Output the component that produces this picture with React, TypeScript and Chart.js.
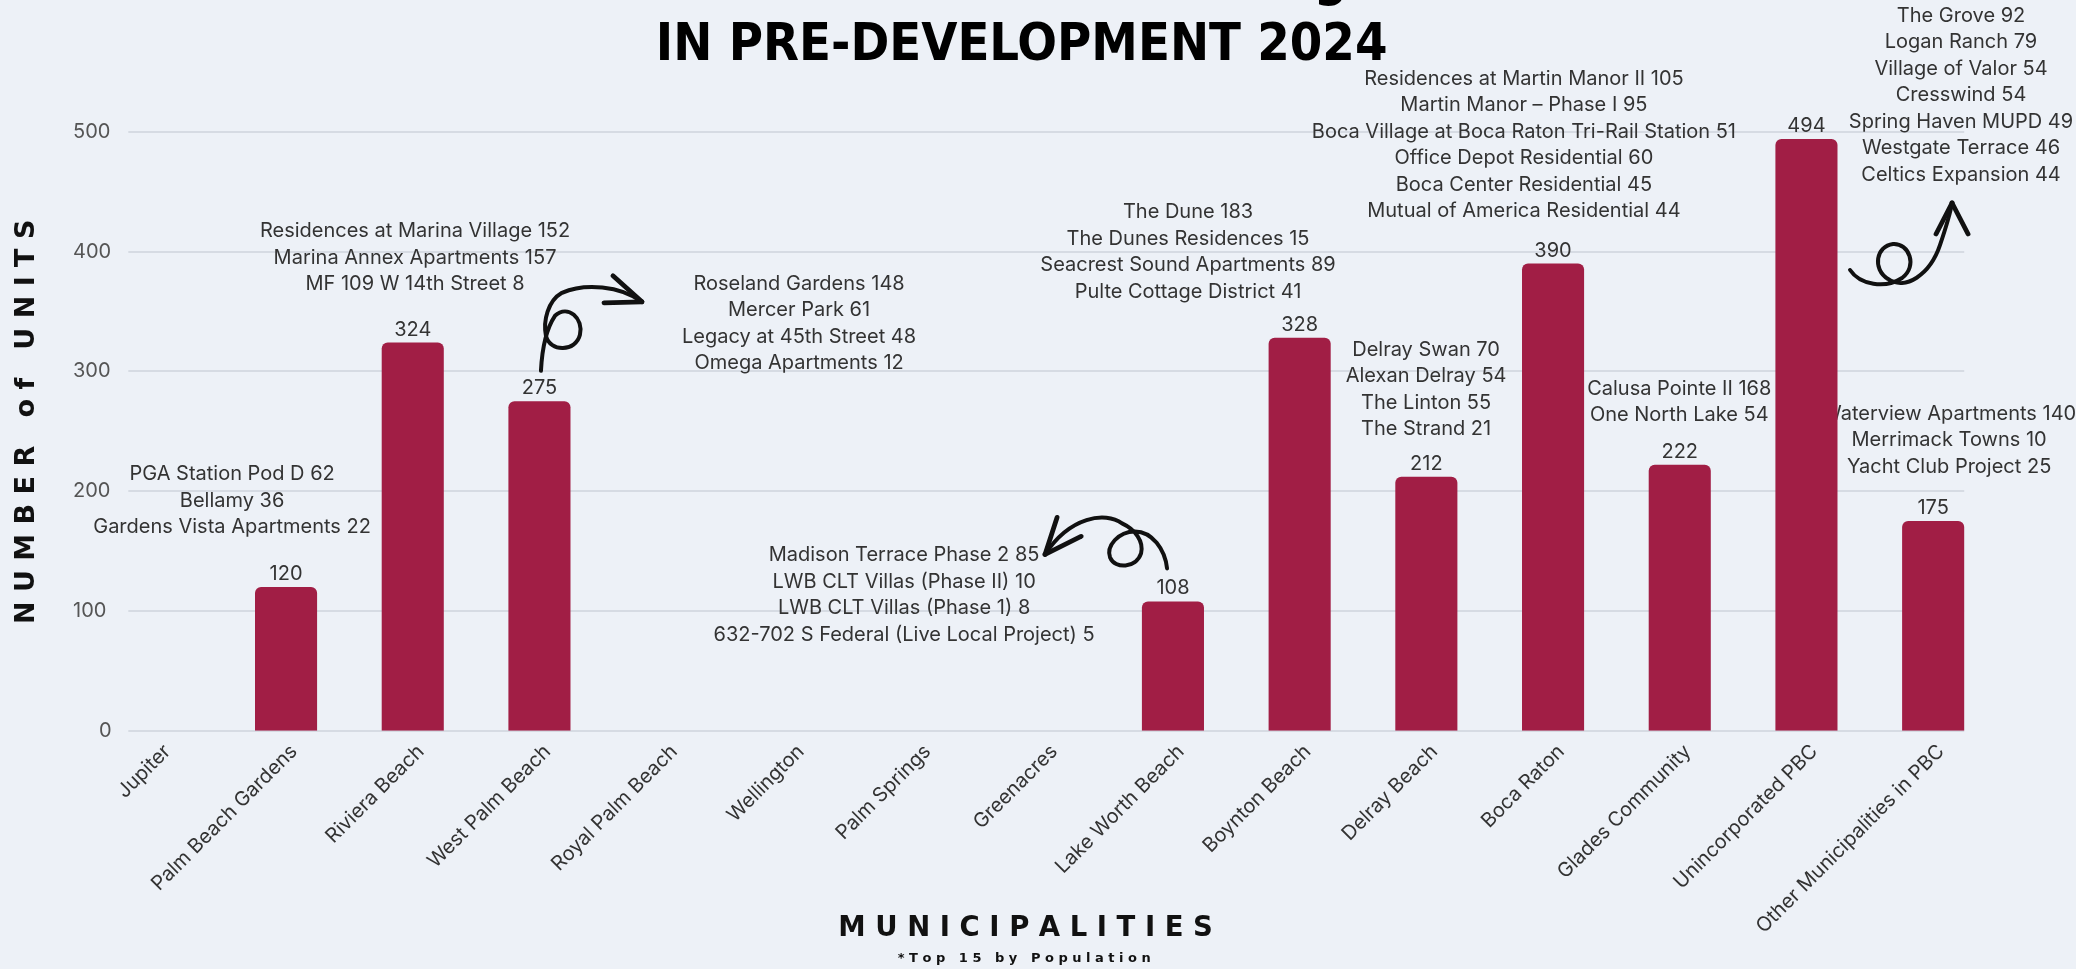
import React, { useEffect, useRef } from "react";
import { Chart, registerables } from "chart.js";

Chart.register(...registerables);

// ---------- data ----------
const categories = [
  "Jupiter",
  "Palm Beach Gardens",
  "Riviera Beach",
  "West Palm Beach",
  "Royal Palm Beach",
  "Wellington",
  "Palm Springs",
  "Greenacres",
  "Lake Worth Beach",
  "Boynton Beach",
  "Delray Beach",
  "Boca Raton",
  "Glades Community",
  "Unincorporated PBC",
  "Other Municipalities in PBC",
];
const units = [0, 120, 324, 275, 0, 0, 0, 0, 108, 328, 212, 390, 222, 494, 175];
const yTickValues = [0, 100, 200, 300, 400, 500];

const titleLines = ["Workforce & Affordable Housing Units", "\u2003IN PRE-DEVELOPMENT 2024"];
const yTitle = "\u2002\u2009N U M B E R   o f   U N I T S";
const xTitle = "M U N I C I P A L I T I E S\u2003\u2002";
const footnote = "\u2003\u2003\u2003\u2003* T o p   1 5   b y   P o p u l a t i o n";

const pbgProjects = ["PGA Station Pod D 62", "Bellamy 36", "Gardens Vista Apartments 22"];
const rivieraProjects = ["Residences at Marina Village 152", "Marina Annex Apartments 157", "MF 109 W 14th Street 8"];
const wpbProjects = ["Roseland Gardens 148", "Mercer Park 61", "Legacy at 45th Street 48", "Omega Apartments 12"];
const lwbProjects = ["Madison Terrace Phase 2 85", "LWB CLT Villas (Phase II) 10", "LWB CLT Villas (Phase 1) 8", "632-702 S Federal (Live Local Project) 5"];
const boyntonProjects = ["The Dune 183", "The Dunes Residences 15", "Seacrest Sound Apartments 89", "Pulte Cottage District 41"];
const delrayProjects = ["Delray Swan 70", "Alexan Delray 54", "The Linton 55", "The Strand 21"];
const bocaProjects = [
  "Residences at Martin Manor II 105",
  "Martin Manor \u2013 Phase I 95",
  "Boca Village at Boca Raton Tri-Rail Station 51",
  "Office Depot Residential 60",
  "Boca Center Residential 45",
  "Mutual of America Residential 44",
];
const gladesProjects = ["Calusa Pointe II 168", "One North Lake 54"];
const unincProjects = ["The Grove 92", "Logan Ranch 79", "Village of Valor 54", "Cresswind 54", "Spring Haven MUPD 49", "Westgate Terrace 46", "Celtics Expansion 44"];
const otherProjects = ["Waterview Apartments 140", "Merrimack Towns 10", "Yacht Club Project 25"];

// ---------- layout (positions in axis units: category index, y value) ----------
const noteLayout = [
  { lines: pbgProjects, cat: 0.574, v: 214.3 },
  { lines: rivieraProjects, cat: 2.018, v: 416.9 },
  { lines: wpbProjects, cat: 5.049, v: 373.3 },
  { lines: lwbProjects, cat: 5.878, v: 146.5 },
  { lines: boyntonProjects, cat: 8.119, v: 432.8 },
  { lines: delrayProjects, cat: 9.998, v: 318.1 },
  { lines: bocaProjects, cat: 10.77, v: 544.1 },
  { lines: gladesProjects, cat: 11.996, v: 285.5 },
  { lines: unincProjects, cat: 14.22, v: 596.9 },
  { lines: otherProjects, cat: 14.126, v: 264.5 },
];

// hand-drawn arrows, offsets in px from the anchored bar's top centre
const arrowLayout = [
  {
    bar: 3,
    start: [1.5, -30.5],
    curves: [
      [2.5, -50.5, 5.5, -70.5, 15.5, -85.5],
      [28.5, -97.5, 44.5, -82.5, 40.5, -66.5],
      [36.5, -49.5, 10.5, -48.5, 6.5, -65.5],
      [3.5, -80.5, 8.5, -100.5, 22.5, -108.5],
      [45.5, -118.5, 80.5, -115.5, 102.5, -99.5],
    ],
    arms: [[73.5, -125.5], [64.5, -98.5]],
  },
  {
    bar: 8,
    start: [-5.9, -33],
    curves: [
      [-7.9, -52, -20.9, -70, -37.9, -70],
      [-54.9, -70, -66.9, -55, -62.9, -44],
      [-57.9, -32, -36.9, -33, -31.9, -48],
      [-28.9, -60, -37.9, -72, -50.9, -78],
      [-67.9, -90, -102.9, -85, -127.9, -47],
    ],
    arms: [[-115.9, -84], [-91.9, -65]],
  },
  {
    bar: 13,
    start: [43.6, 131.1],
    curves: [
      [53.6, 146.1, 78.6, 150.1, 95.6, 139.1],
      [111.6, 127.1, 102.6, 104.1, 86.6, 105.1],
      [69.6, 107.1, 65.6, 130.1, 81.6, 140.1],
      [98.6, 152.1, 123.6, 136.1, 133.6, 106.1],
      [138.6, 91.1, 143.6, 76.1, 145.6, 64.1],
    ],
    arms: [[129.6, 95.1], [161.6, 95.1]],
  },
];

// ---------- style ----------
const BG = "#EDF1F7";
const BAR = "#A11E45";
const GRID = "#D6DBE3";
const TEXT = "#333333";
const SANS = "Inter, 'DejaVu Sans', sans-serif";
const HEAVY = "'DejaVu Sans', sans-serif";
const NARROW = "'Liberation Sans Narrow', 'DejaVu Sans Condensed', 'Roboto Condensed', sans-serif";
const NOTE_SIZE = 20;
const NOTE_LINE = 26.5;

const decorPlugin = {
  id: "decor",
  beforeDatasetsDraw(chart: any) {
    const { ctx, scales } = chart;
    const x = scales.x;
    const y = scales.y;
    const meta = chart.getDatasetMeta(0);
    const bw = meta.data[0].width;
    const left = x.getPixelForValue(0) - bw / 2;
    const right = x.getPixelForValue(categories.length - 1) + bw / 2;
    ctx.save();
    ctx.strokeStyle = GRID;
    ctx.lineWidth = 2;
    y.ticks.forEach((t: any) => {
      const py = Math.round(y.getPixelForValue(t.value));
      ctx.beginPath();
      ctx.moveTo(left, py);
      ctx.lineTo(right, py);
      ctx.stroke();
    });
    ctx.fillStyle = TEXT;
    ctx.font = `${NOTE_SIZE}px ${SANS}`;
    ctx.textAlign = "center";
    ctx.textBaseline = "middle";
    noteLayout.forEach((n) => {
      const cx = x.getPixelForValue(n.cat);
      const cy = y.getPixelForValue(n.v);
      n.lines.forEach((line, i) => ctx.fillText(line, cx, cy + i * NOTE_LINE));
    });
    ctx.restore();
  },
  afterDatasetsDraw(chart: any) {
    const { ctx } = chart;
    const meta = chart.getDatasetMeta(0);
    ctx.save();
    ctx.fillStyle = TEXT;
    ctx.font = `20px ${SANS}`;
    ctx.textAlign = "center";
    ctx.textBaseline = "middle";
    meta.data.forEach((bar: any, i: number) => {
      if (units[i] > 0) ctx.fillText(String(units[i]), bar.x, bar.y - 13);
    });
    ctx.strokeStyle = "#111111";
    ctx.lineCap = "round";
    ctx.lineJoin = "round";
    arrowLayout.forEach((a) => {
      const bar = meta.data[a.bar];
      const ox = bar.x;
      const oy = bar.y;
      ctx.lineWidth = 4;
      ctx.beginPath();
      ctx.moveTo(ox + a.start[0], oy + a.start[1]);
      a.curves.forEach((c) =>
        ctx.bezierCurveTo(ox + c[0], oy + c[1], ox + c[2], oy + c[3], ox + c[4], oy + c[5])
      );
      ctx.stroke();
      const last = a.curves[a.curves.length - 1];
      const tx = ox + last[4];
      const ty = oy + last[5];
      ctx.lineWidth = 4.8;
      a.arms.forEach((arm) => {
        ctx.beginPath();
        ctx.moveTo(tx, ty);
        ctx.lineTo(ox + arm[0], oy + arm[1]);
        ctx.stroke();
      });
    });
    ctx.restore();
  },
};

export default function App() {
  const ref = useRef<HTMLCanvasElement>(null);
  useEffect(() => {
    const canvas = ref.current;
    if (!canvas) return;
    const chart = new Chart(canvas, {
      type: "bar",
      data: {
        labels: categories,
        datasets: [
          {
            data: units,
            backgroundColor: BAR,
            borderRadius: { topLeft: 6, topRight: 6, bottomLeft: 0, bottomRight: 0 },
            borderSkipped: false,
            categoryPercentage: 1,
            barPercentage: 0.49,
          },
        ],
      },
      options: {
        animation: false,
        responsive: true,
        maintainAspectRatio: false,
        layout: { padding: { left: 0, right: 79.5, top: 0, bottom: 0 } },
        plugins: {
          legend: { display: false },
          tooltip: { enabled: false },
          title: {
            display: true,
            text: titleLines,
            color: "#000000",
            font: { family: NARROW, size: 52, weight: "bold", lineHeight: 65 / 52 },
            padding: { top: 8.5, bottom: 53.2 },
          },
          subtitle: {
            display: true,
            position: "bottom",
            text: footnote,
            color: "#111111",
            font: { family: HEAVY, size: 13, weight: "bold", lineHeight: 1.2 },
            padding: { top: 0, bottom: 3 },
          },
        },
        scales: {
          x: {
            grid: { display: false },
            border: { display: false },
            ticks: {
              autoSkip: false,
              maxRotation: 45,
              minRotation: 45,
              padding: 1,
              labelOffset: 8,
              color: TEXT,
              font: { family: SANS, size: 20 },
            },
            title: {
              display: true,
              text: xTitle,
              color: "#111111",
              font: { family: HEAVY, size: 27.5, weight: "bold", lineHeight: 1.2 },
              padding: { top: 0, bottom: 5 },
            },
            afterFit: (s: any) => {
              s.height = 219.6;
            },
          },
          y: {
            min: 0,
            max: 500,
            afterBuildTicks: (s: any) => {
              s.ticks = yTickValues.map((v) => ({ value: v }));
            },
            grid: { display: false },
            border: { display: false },
            ticks: {
              mirror: true,
              padding: -23,
              color: "#555555",
              font: { family: SANS, size: 20 },
              callback: (v: any) => String(v).padStart(3, "\u2007"),
            },
            title: {
              display: true,
              text: yTitle,
              color: "#111111",
              font: { family: HEAVY, size: 27, weight: "bold", lineHeight: 1.2 },
              padding: { top: 10.3, bottom: 0 },
            },
            afterFit: (s: any) => {
              s.width = 96;
            },
          },
        },
      },
      plugins: [decorPlugin],
    } as any);
    return () => chart.destroy();
  }, []);

  return (
    <div
      style={{
        position: "fixed",
        left: 0,
        top: -60,
        width: 2076,
        height: 1029,
        background: BG,
      }}
    >
      <canvas ref={ref} />
    </div>
  );
}
